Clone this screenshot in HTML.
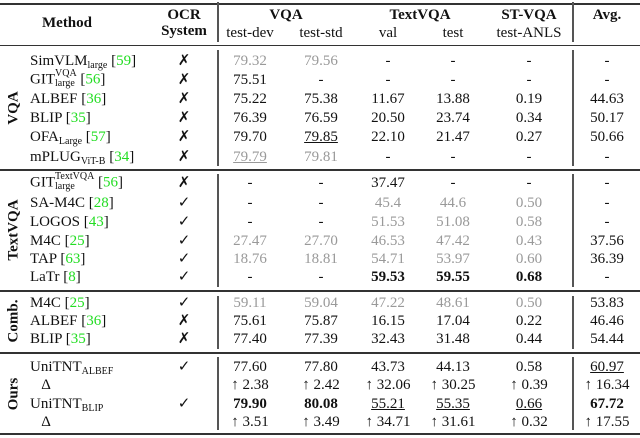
<!DOCTYPE html>
<html><head><meta charset="utf-8">
<style>
body{margin:0;width:640px;height:438px;background:#fff;overflow:hidden;font-family:"Liberation Serif",serif;color:#111}
#t{position:relative;width:640px;height:438px}
.c{position:absolute;transform:translate(-50%,-50%);white-space:nowrap;font-size:15px;line-height:16px}
.l{position:absolute;transform:translateY(-50%);white-space:nowrap;font-size:15px;line-height:16px}
.g{color:#999}.b{font-weight:bold}.u{text-decoration:underline}
.h{position:absolute;left:0;width:640px;background:#333}
.v{position:absolute;width:1.5px;background:#555}
.sec{position:absolute;transform:translate(-50%,-50%) rotate(-90deg);font-weight:bold;font-size:15px;white-space:nowrap}
.cite{color:#2d2}
sub{font-size:10px;line-height:0;vertical-align:-3px}
.st{display:inline-block;vertical-align:middle;font-size:10px;line-height:10px;margin-top:-2px}
.st span{display:block}
</style></head><body>
<div id="t">
<div class="h" style="top:3px;height:2px"></div>
<div class="h" style="top:45px;height:1px"></div>
<div class="h" style="top:169px;height:1.5px"></div>
<div class="h" style="top:290px;height:1.5px"></div>
<div class="h" style="top:352px;height:1.5px"></div>
<div class="h" style="top:433px;height:2px"></div>

<div class="c b" style="left:67px;top:23px">Method</div>
<div class="c b" style="left:184px;top:15px">OCR</div>
<div class="c b" style="left:184px;top:31px">System</div>
<div class="c b" style="left:286px;top:15px">VQA</div>
<div class="c" style="left:250px;top:33px">test-dev</div>
<div class="c" style="left:321px;top:33px">test-std</div>
<div class="c b" style="left:420px;top:15px">TextVQA</div>
<div class="c" style="left:388px;top:33px">val</div>
<div class="c" style="left:453px;top:33px">test</div>
<div class="c b" style="left:529px;top:15px">ST-VQA</div>
<div class="c" style="left:529px;top:33px">test-ANLS</div>
<div class="c b" style="left:607px;top:15px">Avg.</div>

<div class="sec" style="left:14px;top:108px">VQA</div>
<div class="sec" style="left:14px;top:230px">TextVQA</div>
<div class="sec" style="left:14px;top:321px">Comb.</div>
<div class="sec" style="left:14px;top:394px">Ours</div>
</div>
<script>
const methods=['SimVLM<sub>large</sub> [<span class="cite">59</span>]','GIT<span class="st"><span>VQA</span><span>large</span></span> [<span class="cite">56</span>]','ALBEF [<span class="cite">36</span>]','BLIP [<span class="cite">35</span>]','OFA<sub>Large</sub> [<span class="cite">57</span>]','mPLUG<sub>ViT-B</sub> [<span class="cite">34</span>]',
'GIT<span class="st"><span>TextVQA</span><span>large</span></span> [<span class="cite">56</span>]','SA-M4C [<span class="cite">28</span>]','LOGOS [<span class="cite">43</span>]','M4C [<span class="cite">25</span>]','TAP [<span class="cite">63</span>]','LaTr [<span class="cite">8</span>]',
'M4C [<span class="cite">25</span>]','ALBEF [<span class="cite">36</span>]','BLIP [<span class="cite">35</span>]',
'UniTNT<sub>ALBEF</sub>','&nbsp;&nbsp;&nbsp;Δ','UniTNT<sub>BLIP</sub>','&nbsp;&nbsp;&nbsp;Δ'];
const ocr=['x','x','x','x','x','x','x','v','v','v','v','v','v','x','x','v','','v',''];
const testDev=['g:79.32','75.51','75.22','76.39','79.70','gu:79.79','-','-','-','g:27.47','g:18.76','-','g:59.11','75.61','77.40','77.60','↑ 2.38','b:79.90','↑ 3.51'];
const testStd=['g:79.56','-','75.38','76.59','u:79.85','g:79.81','-','-','-','g:27.70','g:18.81','-','g:59.04','75.87','77.39','77.80','↑ 2.42','b:80.08','↑ 3.49'];
const val=['-','-','11.67','20.50','22.10','-','37.47','g:45.4','g:51.53','g:46.53','g:54.71','b:59.53','g:47.22','16.15','32.43','43.73','↑ 32.06','u:55.21','↑ 34.71'];
const test=['-','-','13.88','23.74','21.47','-','-','g:44.6','g:51.08','g:47.42','g:53.97','b:59.55','g:48.61','17.04','31.48','44.13','↑ 30.25','u:55.35','↑ 31.61'];
const anls=['-','-','0.19','0.34','0.27','-','-','g:0.50','g:0.58','g:0.43','g:0.60','b:0.68','g:0.50','0.22','0.44','0.58','↑ 0.39','u:0.66','↑ 0.32'];
const avg=['-','-','44.63','50.17','50.66','-','-','-','-','37.56','36.39','-','53.83','46.46','54.44','u:60.97','↑ 16.34','b:67.72','↑ 17.55'];
const rowY=[61,80,99,118,137,157,183,203,222,241,259,277,303,321,339,367,385,404,422];
const colX=[250,321,388,453,529,607];
const cols=[testDev,testStd,val,test,anls,avg];
const colNames=['test-dev','test-std','textvqa-val','textvqa-test','stvqa-anls','avg'];
const T=document.getElementById('t');
function cell(cls,x,y,html){const d=document.createElement('div');d.className=cls;d.style.left=x+'px';d.style.top=y+'px';d.innerHTML=html;T.appendChild(d);return d;}
rowY.forEach((y,i)=>{
  const m=cell('l',30,y,methods[i]);
  
  
  if(ocr[i]){const o=cell('c',184,y,ocr[i]==='x'?'✗':'✓');
    
    }
  cols.forEach((arr,j)=>{
    let s=arr[i],cls='c';
    const k=s.indexOf(':');
    if(k>0){const f=s.slice(0,k);s=s.slice(k+1);if(f.includes('g'))cls+=' g';if(f.includes('b'))cls+=' b';if(f.includes('u'))cls+=' u';}
    const d=cell(cls,colX[j],y,s);
    
    
  });
});
[[217,2,42],[217,50,166],[217,174,287],[217,296,349],[217,357,430],[572,2,42],[572,50,166],[572,174,287],[572,296,349],[572,357,430]].forEach(a=>{
  const v=document.createElement('div');v.className='v';v.style.left=a[0]+'px';v.style.top=a[1]+'px';v.style.height=(a[2]-a[1])+'px';
  
  
  T.appendChild(v);
});
</script>
</body></html>
